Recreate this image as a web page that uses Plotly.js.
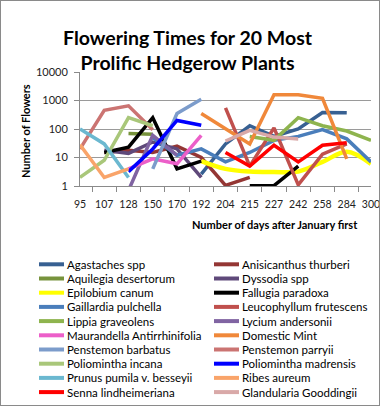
<!DOCTYPE html>
<html>
<head>
<meta charset="utf-8">
<script src="https://cdn.plot.ly/plotly-3.0.1.min.js"></script>
<style>
  html, body { margin: 0; padding: 0; background: #fff; }
  #wrap { position: relative; width: 380px; height: 406px; }
  #chart { position: absolute; left: 0; top: 0; width: 380px; height: 406px; }
  #frame { position: absolute; left: 0; top: 0; width: 380px; height: 406px; box-sizing: border-box; border: 1px solid #8a8a8a; pointer-events: none; }
</style>
</head>
<body>
<div id="wrap"><div id="chart"></div><div id="frame"></div></div>
<script>
// ---- Data ----
const days = ['95','107','128','150','170','192','204','215','227','242','258','284','300'];

const seriesNames = [
  'Agastaches spp', 'Anisicanthus thurberi',
  'Aquilegia desertorum', 'Dyssodia spp',
  'Epilobium canum', 'Fallugia paradoxa',
  'Gaillardia pulchella', 'Leucophyllum frutescens',
  'Lippia graveolens', 'Lycium andersonii',
  'Maurandella Antirrhinifolia', 'Domestic Mint',
  'Penstemon barbatus', 'Penstemon parryii',
  'Poliomintha incana', 'Poliomintha madrensis',
  'Prunus pumila v. besseyii', 'Ribes aureum',
  'Senna lindheimeriana', 'Glandularia Gooddingii'
];

const agastaches   = [null, null, null, null, null, 2.6, 30, 130, 55, 100, 380, 370, null];
const anisicanthus = [null, 15, 18, 15, 25, 10, 1.05, 2, null, null, null, null, null];
const aquilegia    = [null, null, 70, 65, null, null, null, null, null, null, null, null, null];
const dyssodia     = [null, 18, 14, 35, 20, 2, null, null, null, null, null, null, null];
const epilobium    = [null, null, null, null, null, 7.5, 4, 3.2, 3.1, 3.2, 7, 16, 6];
const fallugia     = [null, 15, 23, 250, 4, 7.5, null, 1.03, 1.03, 5, null, null, null];
const gaillardia   = [null, null, null, 50, 12, 20, 7, 15, 40, 55, 95, 45, 7];
const leucophyllum = [null, null, null, null, null, null, 550, 5, 110, 1.1, 13, 30, null];
const lippia       = [null, null, null, null, null, null, null, 55, 40, 250, 130, 85, 40];
const lycium       = [null, null, 0.7, 60, 12, null, null, null, null, null, null, null, null];
const maurandella  = [null, null, 4, 9, 6, 60, null, null, null, null, null, null, null];
const mint         = [null, null, null, null, null, 350, 100, 30, 1600, 1600, 1200, 9, null];
const pBarbatus    = [null, null, null, 4, 350, 1100, null, null, null, null, null, null, null];
const pParryii     = [20, 450, 650, 95, null, null, null, null, null, null, null, null, null];
const pIncana      = [2, 8, 250, 130, null, null, null, null, null, null, null, null, null];
const pMadrensis   = [null, null, 3.2, 20, 200, 135, null, null, null, null, null, null, null];
const prunus       = [100, 30, 2, null, null, null, null, null, null, null, null, null, null];
const ribes        = [28, 2, 4, null, null, null, null, null, null, null, null, null, null];
const senna        = [null, null, null, null, null, null, 15, 5, 27, 7, 27, 33, null];
const glandularia  = [null, null, null, null, null, null, 38, 90, 52, 45, null, null, null];

const seriesValues = [
  agastaches, anisicanthus, aquilegia, dyssodia, epilobium, fallugia,
  gaillardia, leucophyllum, lippia, lycium, maurandella, mint,
  pBarbatus, pParryii, pIncana, pMadrensis, prunus, ribes, senna, glandularia
];

const seriesColors = [
  '#376092', '#943634', '#77933C', '#5F497A', '#FFFF00', '#000000',
  '#4A7EBB', '#C0504D', '#8EB44E', '#8064A2', '#EC5FC9', '#F0883A',
  '#7C9CCB', '#CB7472', '#A9C77A', '#0000FF', '#6BB8D0', '#F9A46A',
  '#FF0000', '#D9A9A8'
];

const yTicks = [1, 10, 100, 1000, 10000];

// ---- Geometry (pixels) ----
const W = 380, H = 406;
const L = 80, R = 371, T = 72, B = 186;
const pw = R - L, ph = B - T;
const px = x => (x - L) / pw;
const py = y => (B - y) / ph;
const FONT = 'Lato, "Liberation Sans", sans-serif';

const traces = seriesNames.map((name, i) => ({
  type: 'scatter',
  mode: 'lines',
  name: name,
  x: days,
  y: seriesValues[i],
  connectgaps: false,
  line: {
    color: seriesColors[i],
    width: name === 'Epilobium canum' ? 4.5 : 3.5,
    shape: name === 'Epilobium canum' ? 'spline' : 'linear'
  },
  hoverinfo: 'name+x+y',
  showlegend: false
}));

// Manual legend (two columns, row-major), built from names/colours
const shapes = [];
const annotations = [];
const rowY0 = 264.3, rowStep = 14.2;
const colLineX = [[39, 64], [214, 239]];
const colTextX = [65, 240];
seriesNames.forEach((name, i) => {
  const row = Math.floor(i / 2), col = i % 2;
  const y = rowY0 + row * rowStep;
  shapes.push({
    type: 'line', xref: 'paper', yref: 'paper',
    x0: px(colLineX[col][0]), x1: px(colLineX[col][1]), y0: py(y), y1: py(y),
    line: { color: seriesColors[i], width: 4 }
  });
  annotations.push({
    xref: 'paper', yref: 'paper', x: px(colTextX[col]), y: py(y),
    xanchor: 'left', yanchor: 'middle', showarrow: false,
    text: name, font: { family: FONT, size: 11.5, color: '#000' }
  });
});

// Axis titles
annotations.push({
  xref: 'paper', yref: 'paper', x: px(25), y: py(131),
  xanchor: 'center', yanchor: 'middle', showarrow: false, textangle: -90,
  text: '<b>Number of Flowers</b>', font: { family: FONT, size: 11, color: '#000' }
});
annotations.push({
  xref: 'paper', yref: 'paper', x: px(275), y: py(224),
  xanchor: 'center', yanchor: 'middle', showarrow: false,
  text: '<b>Number of days after January first</b>', font: { family: FONT, size: 11, color: '#000' }
});

const layout = {
  width: W, height: H,
  margin: { l: L, r: W - R, t: T, b: H - B, pad: 0 },
  paper_bgcolor: '#fff', plot_bgcolor: '#fff',
  showlegend: false,
  title: {
    text: '<b>Flowering Times for 20 Most<br>Prolific Hedgerow Plants</b>',
    x: 187.5 / W, xref: 'container', xanchor: 'center',
    y: 1 - 44.5 / H, yref: 'container', yanchor: 'middle',
    font: { family: FONT, size: 19.5, color: '#000' }
  },
  xaxis: {
    type: 'category',
    categoryorder: 'array', categoryarray: days,
    showgrid: false, zeroline: false,
    showline: true, linecolor: '#8a8a8a', linewidth: 1,
    ticks: 'outside', tickson: 'boundaries', ticklen: 5, tickcolor: '#8a8a8a',
    tickangle: 0,
    ticklabelstandoff: 8,
    tickfont: { family: FONT, size: 10.5, color: '#222' },
    fixedrange: true
  },
  yaxis: {
    type: 'log', range: [0, 4],
    tickvals: yTicks, ticktext: yTicks.map(String),
    showgrid: true, gridcolor: '#9a9a9a', gridwidth: 1,
    zeroline: false,
    showline: true, linecolor: '#8a8a8a', linewidth: 1,
    ticks: 'outside', ticklen: 5, tickcolor: '#8a8a8a',
    ticklabelstandoff: 4,
    tickfont: { family: FONT, size: 11, color: '#222' },
    fixedrange: true
  },
  shapes: shapes,
  annotations: annotations
};

Plotly.newPlot('chart', traces, layout, { displayModeBar: false, staticPlot: true });
</script>
</body>
</html>
